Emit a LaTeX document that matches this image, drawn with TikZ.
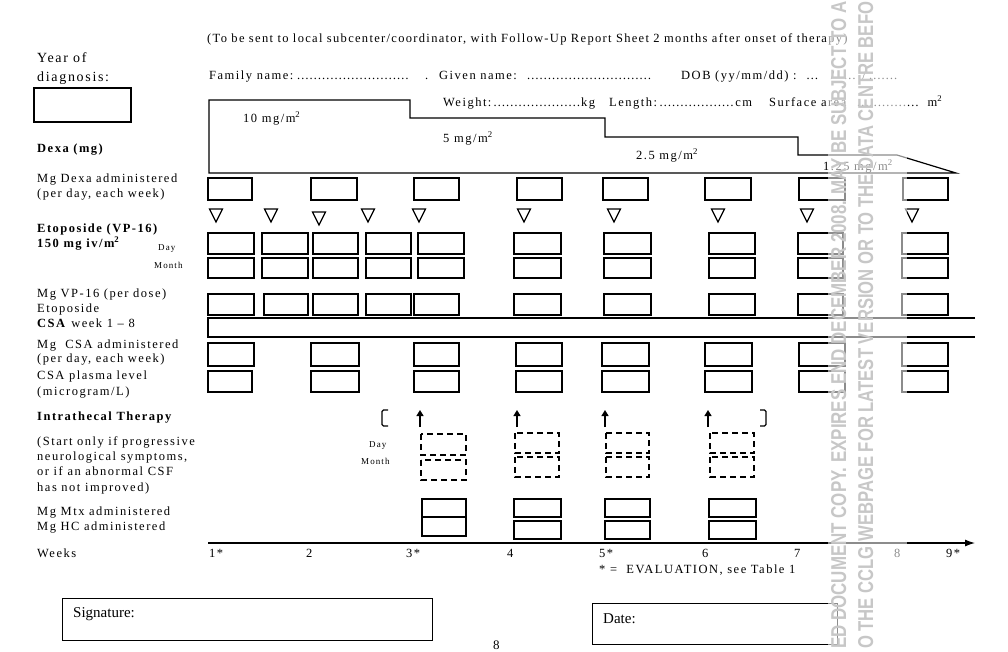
\documentclass[tikz,border=0pt]{standalone}
\usepackage{fontspec}
\setmainfont{Liberation Serif}
\newfontfamily\spaced[LetterSpace=12]{Liberation Serif}
\newfontfamily\headfont[LetterSpace=10.5]{Liberation Serif}
\newfontfamily\wmfont{Liberation Sans}
\usetikzlibrary{arrows.meta}
\tikzset{
  lbl/.style={anchor=base west, inner sep=0pt, font=\spaced\fontsize{12.5}{15}\selectfont},
  headlbl/.style={anchor=base west, inner sep=0pt, font=\headfont\fontsize{12.5}{15}\selectfont},
  blbl/.style={anchor=base west, inner sep=0pt, font=\spaced\bfseries\fontsize{12.5}{15}\selectfont},
  biglbl/.style={anchor=base west, inner sep=0pt, font=\spaced\fontsize{14}{16}\selectfont},
  smalllbl/.style={anchor=base west, inner sep=0pt, font=\spaced\fontsize{9}{11}\selectfont},
  plainlbl/.style={anchor=base west, inner sep=0pt, font=\fontsize{15}{18}\selectfont},
  cell/.style={draw=black, line width=1.3pt},
  dcell/.style={draw=black, line width=1.2pt, dash pattern=on 6pt off 4pt},
  outline/.style={draw=black, line width=1.2pt},
  tri/.style={draw=black, line width=1.2pt, line join=miter},
  itarrow/.style={line width=1.3pt, -{Triangle[length=6pt,width=7pt]}},
  wm/.style={anchor=base west, inner sep=0pt, rotate=90, text=black!22, font=\wmfont\bfseries},
}
\newcommand\dl{\leaders\hbox{…}\hfill}
\begin{document}
\begin{tikzpicture}[x=1pt, y=-1pt]
\useasboundingbox (0,0) rectangle (1008,651);

% header texts
\node[headlbl] (head) at (207,42) {(To be sent to local subcenter/coordinator, with Follow-Up Report Sheet 2 months after onset of therapy)};
\node[lbl] (fam) at (209,79) {\makebox[219pt][l]{Family name:\dl\ .}};
\node[lbl] (given) at (439,79) {\makebox[214pt][l]{Given name:\dl}};
\node[lbl] (dob) at (681,79) {\makebox[216pt][l]{DOB (yy/mm/dd) : \dl/\dl/\dl.}};
\node[lbl] (weight) at (443,106) {\makebox[152pt][l]{Weight:\dl kg}};
\node[lbl] (length) at (609,106) {\makebox[143pt][l]{Length:\dl cm}};
\node[lbl] (surf) at (769,106) {\makebox[173pt][l]{Surface area\dl m\textsuperscript{2}}};

% year of diagnosis
\node[biglbl] (year) at (37,62) {Year of};
\node[biglbl] (diag) at (37,81) {diagnosis:};
\draw[cell] (34,88) rectangle (131,122);

% Dexa outline
\draw[outline] (209,173) -- (209,100) -- (410,100) -- (410,118) -- (605,118) -- (605,137) -- (798,137) -- (798,155) -- (897,155) -- (956,173) -- cycle;
\node[lbl] (d10) at (243,122) {10 mg/m\textsuperscript{2}};
\node[lbl] (d5) at (443,142) {5 mg/m\textsuperscript{2}};
\node[lbl] (d25) at (636,159) {2.5 mg/m\textsuperscript{2}};
\node[lbl] (d125) at (823,170) {1.25 mg/m\textsuperscript{2}};

% left labels
\node[blbl] (dexa) at (37,152) {Dexa (mg)};
\node[lbl] (mgdexa) at (37,182) {Mg Dexa administered};
\node[lbl] (perday1) at (37,197) {(per day, each week)};
\node[blbl] (eto) at (37,232) {Etoposide (VP-16)};
\node[blbl] (eto2) at (37,247) {150 mg iv/m\textsuperscript{2}};
\node[smalllbl] (day1) at (158,250) {Day};
\node[smalllbl] (month1) at (154,268) {Month};
\node[lbl] (mgvp) at (37,297) {Mg VP-16 (per dose)};
\node[lbl] (eto3) at (37,312) {Etoposide};
\node[lbl] (csaw) at (37,327) {\textbf{CSA} week 1 – 8};
\node[lbl] (mgcsa) at (37,348) {Mg\ \ CSA administered};
\node[lbl] (perday2) at (37,362) {(per day, each week)};
\node[lbl] (csapl) at (37,379) {CSA plasma level};
\node[lbl] (micro) at (37,395) {(microgram/L)};
\node[blbl] (intra) at (37,420) {Intrathecal Therapy};
\node[lbl] (st1) at (37,445) {(Start only if progressive};
\node[lbl] (st2) at (37,460) {neurological symptoms,};
\node[lbl] (st3) at (37,475) {or if an abnormal CSF};
\node[lbl] (st4) at (37,491) {has not improved)};
\node[lbl] (mtx) at (37,515) {Mg Mtx administered};
\node[lbl] (hc) at (37,530) {Mg HC administered};
\node[lbl] (weeks) at (37,557) {Weeks};
\node[smalllbl] (day2) at (369,447) {Day};
\node[smalllbl] (month2) at (361,464) {Month};

% Dexa administered boxes
\foreach \a/\b in {208/252,311/357,414/459,517/562,603/648,705/751,799/845,903/948}
  \draw[cell] (\a,178) rectangle (\b,200);
% triangles
\foreach \c/\t in {216/209,271/209,319/212,368/209,419/209,524/209,614/209,718/209,807/209,912/209}
  \draw[tri] ({\c-6.5},\t) -- ({\c+6.5},\t) -- (\c,{\t+13}) -- cycle;
% Etoposide day / month
\foreach \a/\b in {208/254,262/308,313/358,366/411,418/464,514/561,604/651,709/755,798/843,902/948}{
  \draw[cell] (\a,233) rectangle (\b,254);
  \draw[cell] (\a,258) rectangle (\b,278);
}
% VP-16 per dose
\foreach \a/\b in {208/254,264/308,313/358,366/411,414/459,514/561,604/651,709/755,798/843,902/948}
  \draw[cell] (\a,294) rectangle (\b,315);
% CSA band
\draw[outline] (975,318) -- (208,318) -- (208,337) -- (975,337);
% CSA administered / plasma
\foreach \a/\b in {208/254,311/359,414/459,516/562,602/649,705/752,799/845,902/948}
  \draw[cell] (\a,343) rectangle (\b,366);
\foreach \a/\b in {208/252,311/359,414/459,516/562,602/649,705/752,799/845,902/948}
  \draw[cell] (\a,371) rectangle (\b,392);

% intrathecal brackets and arrows
\draw[line width=1.3pt, rounded corners=1.5pt] (388,410) -- (382,410) -- (382,426) -- (388,426);
\draw[line width=1.3pt, rounded corners=1.5pt] (760,410) -- (766,410) -- (766,426) -- (760,426);
\foreach \c in {420,517,605,708}
  \draw[itarrow] (\c,427) -- (\c,410);
% dashed day/month boxes
\draw[dcell] (421,434) rectangle (466,455);
\draw[dcell] (421,460) rectangle (466,480);
\foreach \a/\b in {515/559,606/649,710/754}{
  \draw[dcell] (\a,433) rectangle (\b,453);
  \draw[dcell] (\a,457) rectangle (\b,477);
}
% Mtx / HC boxes
\draw[cell] (422,499) rectangle (466,536);
\draw[cell] (422,517) -- (466,517);
\foreach \a/\b in {514/561,605/650,709/756}{
  \draw[cell] (\a,499) rectangle (\b,517);
  \draw[cell] (\a,521) rectangle (\b,539);
}

% weeks axis
\draw[line width=1.2pt, -{Latex[length=10pt,width=7pt]}] (208,543) -- (975,543);
\foreach \x/\t/\n in {209/1*/w1,306/2/w2,406/3*/w3,507/4/w4,599/5*/w5,702/6/w6,794/7/w7,894/8/w8,946/9*/w9}
  \node[lbl] (\n) at (\x,557) {\t};
\node[lbl] (evalnote) at (599,573) {* =\ \ EVALUATION, see Table 1};

% signature / date
\draw[line width=1pt] (62,598) rectangle (432,640);
\node[plainlbl] (sig) at (73,617) {Signature:};
\draw[line width=1pt] (592,603) rectangle (837,644);
\node[plainlbl] (date) at (603,623) {Date:};
\node[anchor=base west, inner sep=0pt, font=\fontsize{13}{15}\selectfont] (page) at (493,649) {8};

% watermark
\fill[white, opacity=0.55] (828,0) rectangle (907,651);
\node[wm] (wm1) at (846,649) {\resizebox{647pt}{15pt}{ED DOCUMENT COPY. EXPIRES END DECEMBER 2008. MAY BE SUBJECT TO A}};
\node[wm] (wm2) at (873,649) {\resizebox{647pt}{15pt}{O THE CCLG WEBPAGE FOR LATEST VERSION OR TO THE DATA CENTRE BEFO}};
\end{tikzpicture}
\end{document}
